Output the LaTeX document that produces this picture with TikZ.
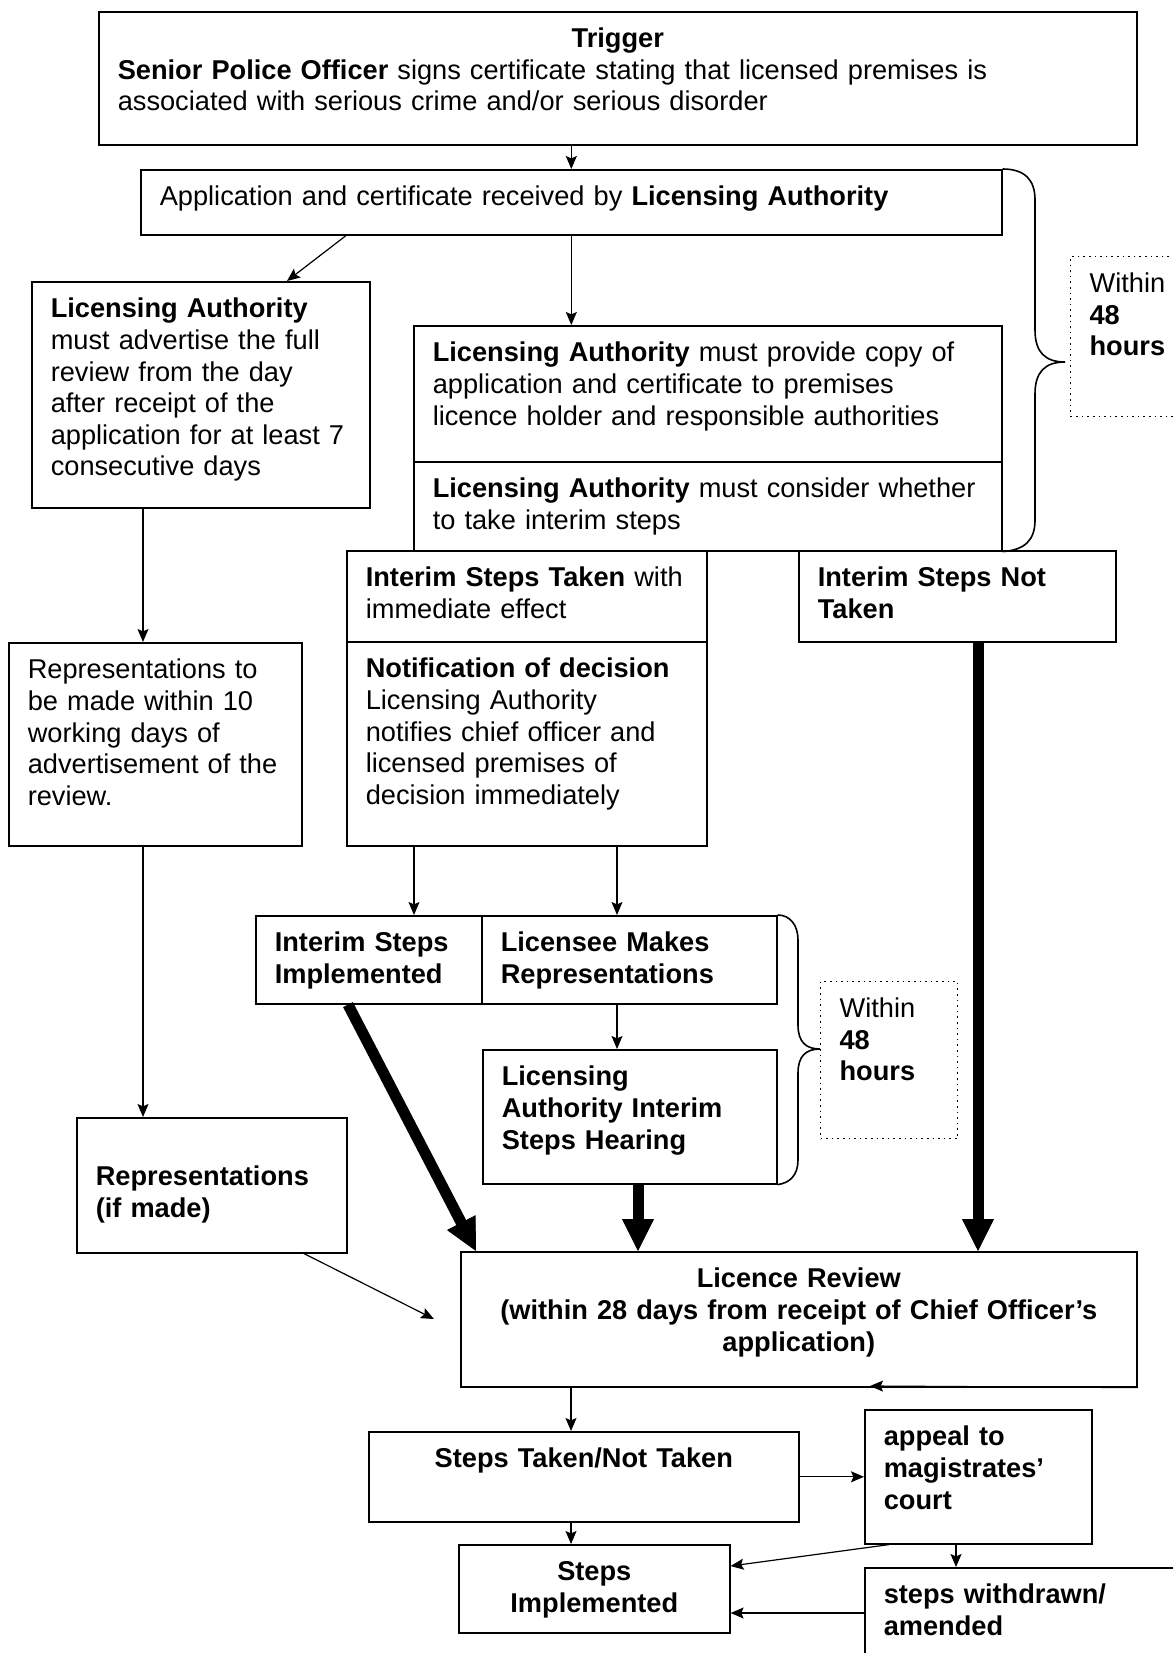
\documentclass[tikz,border=0pt]{standalone}
\usepackage{fontspec}
\setmainfont{Liberation Sans}
\usetikzlibrary{arrows.meta,calc}
\tikzset{
  flow/.style={rectangle, draw, anchor=north west, align=left, line width=0.8pt,
               inner xsep=9.5pt, inner ysep=6pt, text height=12pt},
  ctr/.style={flow, align=center},
  note/.style={flow, dotted, line width=0.6pt},
  ar/.style={-{Stealth[length=6.5pt,width=5.5pt,inset=1.2pt]}, line width=0.6pt},
  bigar/.style={-{Triangle[length=16pt,width=16pt,line width=0.4pt]}, line width=5.5pt},
}
\begin{document}
\begin{tikzpicture}[x=0.5pt, y=-0.5pt, font=\fontsize{13.6pt}{15.8pt}\selectfont]
  \useasboundingbox (0,0) rectangle (1172,1653);
  \node[flow, text width=500pt, text depth=42.5pt] (trig) at (98,11)
    {\makebox[\linewidth]{\textbf{Trigger}}\\
     \textbf{Senior Police Officer} signs certificate stating that licensed premises is\\
     associated with serious crime and/or serious disorder};
  \node[flow, text width=411.5pt, text depth=8.5pt] (appl) at (140,169)
    {Application and certificate received by \textbf{Licensing Authority}};
  \node[flow, text width=150pt, text depth=89pt] (advert) at (31,281)
    {\textbf{Licensing Authority}\\ must advertise the full\\ review from the day\\
     after receipt of the\\ application for at least 7\\ consecutive days};
  \node[flow, text width=275pt, text depth=44pt] (provide) at (413,325)
    {\textbf{Licensing Authority} must provide copy of\\ application and certificate to premises\\
     licence holder and responsible authorities};
  \node[flow, text width=275pt, text depth=20.5pt] (consider) at (413,461)
    {\textbf{Licensing Authority} must consider whether\\ to take interim steps};
  \node[flow, text width=161pt, text depth=21.5pt] (taken) at (346,550)
    {\textbf{Interim Steps Taken} with\\ immediate effect};
  \node[flow, text width=161pt, text depth=78pt] (notify) at (346,641)
    {\textbf{Notification of decision}\\ Licensing Authority\\ notifies chief officer and\\
     licensed premises of\\ decision immediately};
  \node[flow, text width=139.5pt, text depth=21.5pt] (nottaken) at (798,550)
    {\textbf{Interim Steps Not}\\ \textbf{Taken}};
  \node[flow, text width=127.5pt, text depth=77.5pt] (reps) at (8,642)
    {Representations to\\ be made within 10\\ working days of\\ advertisement of the\\ review.};
  \node[flow, text width=116pt, text height=28pt, text depth=27.5pt] (ifmade) at (76,1117)
    {\textbf{Representations}\\ \textbf{(if made)}};
  \node[flow, text width=94pt, text depth=20pt] (implem) at (255,915)
    {\textbf{Interim Steps}\\ \textbf{Implemented}};
  \node[flow, text width=128.5pt, text depth=20pt] (licensee) at (481,915)
    {\textbf{Licensee Makes}\\ \textbf{Representations}};
  \node[flow, text width=128pt, text depth=43pt] (hearing) at (482,1049)
    {\textbf{Licensing}\\ \textbf{Authority Interim}\\ \textbf{Steps Hearing}};
  \node[note, text width=51pt, text depth=56pt] (within1) at (1070,256)
    {Within\\ \textbf{48}\\ \textbf{hours}};
  \node[note, text width=49.5pt, text depth=54.5pt] (within2) at (820,981)
    {Within\\ \textbf{48}\\ \textbf{hours}};
  \node[ctr, text width=319pt, text depth=43.5pt, font=\fontsize{13.6pt}{15.8pt}\selectfont\bfseries] (review) at (460,1251)
    {Licence Review\\ (within 28 days from receipt of Chief Officer’s\\ application)};
  \node[ctr, text width=196pt, text depth=21pt] (stepstaken) at (368,1431)
    {\textbf{Steps Taken/Not Taken}};
  \node[flow, text width=94.5pt, text depth=43pt] (appeal) at (864,1409)
    {\textbf{appeal to}\\ \textbf{magistrates’}\\ \textbf{court}};
  \node[ctr, text width=116.5pt, text depth=20pt] (stepsimpl) at (458,1544)
    {\textbf{Steps}\\ \textbf{Implemented}};
  \node[flow, text width=151pt, text depth=26pt] (withdrawn) at (864,1567)
    {\textbf{steps withdrawn/}\\ \textbf{amended}};
  \coordinate (repend) at (434,1319);
  \coordinate (revtip) at (870,1386);

  \draw[ar] (trig.south -| appl.north) -- (appl.north);
  \draw[ar] ([xshift=103pt]appl.south west) -- ([xshift=128pt]advert.north west);
  \draw[ar] (appl.south) -- (appl.south |- provide.north);
  \draw[ar] ([xshift=56pt]advert.south west) -- ([xshift=56pt]advert.south west |- reps.north);
  \draw[ar] ([xshift=67.5pt]reps.south west) -- ([xshift=67.5pt]reps.south west |- ifmade.north);
  \draw[ar] ([xshift=34pt]notify.south west) -- ([xshift=34pt]notify.south west |- implem.north);
  \draw[ar] ([xshift=135.5pt]notify.south west) -- ([xshift=135.5pt]notify.south west |- licensee.north);
  \draw[ar] ([xshift=68pt]licensee.south west) -- ([xshift=68pt]licensee.south west |- hearing.north);
  \draw[bigar] ([xshift=46.5pt]implem.south west) -- ([xshift=8pt]review.north west);
  \draw[bigar] ([xshift=78pt]hearing.south west) -- ([xshift=78pt]hearing.south west |- review.north);
  \draw[bigar] ([xshift=90pt]nottaken.south west) -- ([xshift=90pt]nottaken.south west |- review.north);
  \draw[ar] ([xshift=114pt]ifmade.south west) -- (repend);
  \draw[ar] (review.south east) -- (revtip);
  \draw[ar] ([xshift=55.5pt]review.south west) -- ([xshift=55.5pt]review.south west |- stepstaken.north);
  \draw[ar] (stepstaken.east) -- (stepstaken.east -| appeal.west);
  \draw[ar] ([xshift=101.5pt]stepstaken.south west) -- ([xshift=101.5pt]stepstaken.south west |- stepsimpl.north);
  \draw[ar] ([xshift=12.5pt]appeal.south west) -- ([yshift=-11pt]stepsimpl.north east);
  \draw[ar] ([xshift=46pt]appeal.south west) -- ([xshift=46pt]appeal.south west |- withdrawn.north);
  \draw[ar] ([yshift=-23pt]withdrawn.north west) -- ([yshift=-23pt]withdrawn.north west -| stepsimpl.east);

  \draw[line width=0.8pt] (appl.north east) .. controls (1025,169) and (1035,180) .. (1035,200)
    -- (1035,330) .. controls (1035,352) and (1045,362) .. (1065,362)
    .. controls (1045,362) and (1035,372) .. (1035,394)
    -- (1035,520) .. controls (1035,540) and (1025,550) .. (consider.south east);
  \draw[line width=0.8pt] (licensee.north east) .. controls (790,915) and (798,925) .. (798,940)
    -- (798,1025) .. controls (798,1042) and (806,1049) .. (820,1049)
    .. controls (806,1049) and (798,1056) .. (798,1073)
    -- (798,1160) .. controls (798,1175) and (790,1183) .. (hearing.south east);
\end{tikzpicture}
\end{document}
